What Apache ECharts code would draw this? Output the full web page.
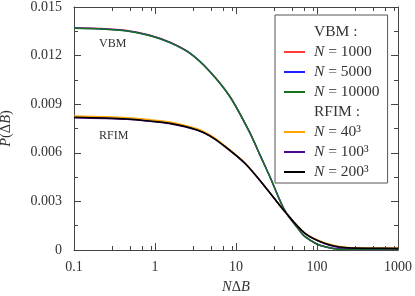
<!DOCTYPE html>
<html>
<head>
<meta charset="utf-8">
<script src="https://cdn.jsdelivr.net/npm/echarts@6/dist/echarts.min.js"></script>
<style>html,body{margin:0;padding:0;background:#fff}#c{width:415px;height:296px}</style>
</head>
<body>
<div id="c"></div>
<script>
// ---- data ----
var vbmX      = [0.1, 0.2, 0.45, 0.87, 1.53, 2.7, 4.77, 8.43, 14.9, 19.8, 26.3, 40.3, 61.7, 71.1, 99.3, 125.6, 158, 215, 400, 1000];
var vbm1000   = [0.01372, 0.01368, 0.01355, 0.01326, 0.01283, 0.01216, 0.01102, 0.00947, 0.00722, 0.00586, 0.00451, 0.00241, 0.00117, 0.00082, 0.00037, 0.00020, 0.00009, 0.00004, 0.00003, 0.00003];
var vbm5000   = [0.01370, 0.01366, 0.01353, 0.01324, 0.01281, 0.01215, 0.01101, 0.00946, 0.00722, 0.00586, 0.00451, 0.00241, 0.00117, 0.00082, 0.00037, 0.00020, 0.00009, 0.00004, 0.00003, 0.00003];
var vbm10000  = [0.01369, 0.01365, 0.01352, 0.01323, 0.01280, 0.01214, 0.01101, 0.00946, 0.00722, 0.00586, 0.00451, 0.00241, 0.00117, 0.00082, 0.00037, 0.00020, 0.00009, 0.00004, 0.00003, 0.00003];

var rfimX     = [0.1, 0.45, 0.87, 1.53, 3.31, 4.77, 6.92, 12.9, 22.8, 40.3, 71.1, 125.6, 222, 400, 1000];
var rfim40    = [0.00827, 0.00817, 0.00804, 0.00790, 0.00748, 0.00710, 0.00652, 0.00537, 0.00392, 0.00236, 0.00104, 0.00043, 0.00017, 0.00013, 0.00012];
var rfim100   = [0.00817, 0.00807, 0.00794, 0.00780, 0.00740, 0.00703, 0.00647, 0.00534, 0.00391, 0.00236, 0.00102, 0.00039, 0.00012, 0.00010, 0.00010];
var rfim200   = [0.00819, 0.00809, 0.00796, 0.00782, 0.00741, 0.00704, 0.00648, 0.00535, 0.00391, 0.00236, 0.00103, 0.00041, 0.00015, 0.00011, 0.00010];

var xTickLabels = [0.1, 1, 10, 100, 1000];
var xMinorTicks = [0.3, 0.5, 0.7, 0.9, 3, 5, 7, 9, 30, 50, 70, 90, 300, 500, 700, 900];
var yTickLabels = [0, 0.003, 0.006, 0.009, 0.012, 0.015];

var seriesNames = ['N = 1000', 'N = 5000', 'N = 10000', 'N = 40³', 'N = 100³', 'N = 200³'];
var seriesColors = ['#ff3b3b', '#1f1fff', '#17701a', '#ffa500', '#4b0a8a', '#000000'];

// ---- chart ----
var FONT = '"Liberation Serif", "DejaVu Serif", serif';
var TXT = '#333';
var AX = '#444';

function zip(xs, ys) { return xs.map(function (x, i) { return [x, ys[i]]; }); }

var allY = [vbm1000, vbm5000, vbm10000, rfim40, rfim100, rfim200];
var allX = [vbmX, vbmX, vbmX, rfimX, rfimX, rfimX];

function lineSeries(k) {
  return {
    name: seriesNames[k], type: 'line', data: zip(allX[k], allY[k]),
    smooth: 0.3, showSymbol: false, symbol: 'none',
    lineStyle: { width: 1.5, color: seriesColors[k] }, itemStyle: { color: seriesColors[k] },
    z: 2 + k, animation: false
  };
}
var series = [{ name: 'VBM :', type: 'line', data: [] }];
for (var i = 0; i < 3; i++) series.push(lineSeries(i));
series.push({ name: 'RFIM :', type: 'line', data: [] });
for (var j = 3; j < 6; j++) series.push(lineSeries(j));

var legendData = [{ name: 'VBM :', icon: 'none' }]
  .concat(seriesNames.slice(0, 3).map(function (n) { return { name: n }; }))
  .concat([{ name: 'RFIM :', icon: 'none' }])
  .concat(seriesNames.slice(3).map(function (n) { return { name: n }; }));

function xAxisBase(pos, showLabel, minor) {
  return {
    type: 'log', logBase: 10, min: 0.1, max: 1000, position: pos, gridIndex: 0,
    axisLine: { show: !minor, onZero: false, lineStyle: { color: AX, width: 1 } },
    axisTick: minor
      ? { show: true, inside: true, length: 4, customValues: xMinorTicks, lineStyle: { color: AX } }
      : { show: true, inside: true, length: 7, customValues: xTickLabels, lineStyle: { color: AX } },
    axisLabel: {
      show: showLabel, margin: 10, color: TXT, fontFamily: FONT, fontSize: 14,
      customValues: xTickLabels,
      formatter: function (v) { return String(v); }
    },
    splitLine: { show: false }, minorTick: { show: false }
  };
}

var xAxes = [xAxisBase('bottom', true, false), xAxisBase('bottom', false, true),
             xAxisBase('top', false, false), xAxisBase('top', false, true)];
xAxes[0].name = '{i|N}Δ{i|B}';
xAxes[0].nameLocation = 'middle';
xAxes[0].nameGap = 30;
xAxes[0].nameTextStyle = { color: TXT, fontFamily: FONT, fontSize: 14.5, rich: { i: { fontStyle: 'italic', fontFamily: FONT, fontSize: 14.5, color: TXT } } };

function yAxisBase(pos, showLabel) {
  return {
    type: 'value', min: 0, max: 0.015, interval: 0.003, position: pos,
    axisLine: { show: true, lineStyle: { color: AX, width: 1 } },
    axisTick: { show: true, inside: true, length: 7, lineStyle: { color: AX } },
    minorTick: { show: true, splitNumber: 2, length: 4, lineStyle: { color: AX } },
    axisLabel: {
      show: showLabel, margin: 12, color: TXT, fontFamily: FONT, fontSize: 14,
      formatter: function (v) {
        var k = yTickLabels.indexOf(Math.round(v * 1000) / 1000);
        var t = yTickLabels[k];
        return t === 0 ? '0' : t.toFixed(3);
      }
    },
    splitLine: { show: false }
  };
}
var yAxes = [yAxisBase('left', true), yAxisBase('right', false)];
yAxes[0].name = '{i|P}(Δ{i|B})';
yAxes[0].nameLocation = 'middle';
yAxes[0].nameGap = 60;
yAxes[0].nameTextStyle = { color: TXT, fontFamily: FONT, fontSize: 14.5, rich: { i: { fontStyle: 'italic', fontFamily: FONT, fontSize: 14.5, color: TXT } } };

var chart = echarts.init(document.getElementById('c'), null, { renderer: 'canvas' });
chart.setOption({
  animation: false,
  backgroundColor: '#fff',
  grid: { left: 74, right: 17, top: 7, bottom: 46, containLabel: false, outerBoundsMode: 'none' },
  xAxis: xAxes,
  yAxis: yAxes,
  legend: {
    data: legendData, orient: 'vertical', left: 275, top: 15,
    icon: 'rect', itemWidth: 21, itemHeight: 2, itemGap: 4,
    padding: [9, 8, 3, 9],
    borderColor: '#555', borderWidth: 1, borderRadius: 0, backgroundColor: '#fff',
    selectedMode: false,
    textStyle: {
      color: TXT, fontFamily: FONT, fontSize: 15.5, lineHeight: 15, padding: [0, 0, 0, 4],
      rich: { i: { fontStyle: 'italic', fontFamily: FONT, fontSize: 15.5, lineHeight: 15, color: TXT } }
    },
    formatter: function (n) { return n.replace(/^N/, '{i|N}'); }
  },
  graphic: [
    { type: 'text', left: 99, top: 38, style: { text: 'VBM', fill: TXT, font: '12px ' + FONT } },
    { type: 'text', left: 99, top: 130, style: { text: 'RFIM', fill: TXT, font: '12px ' + FONT } }
  ],
  series: series
});
</script>
</body>
</html>
